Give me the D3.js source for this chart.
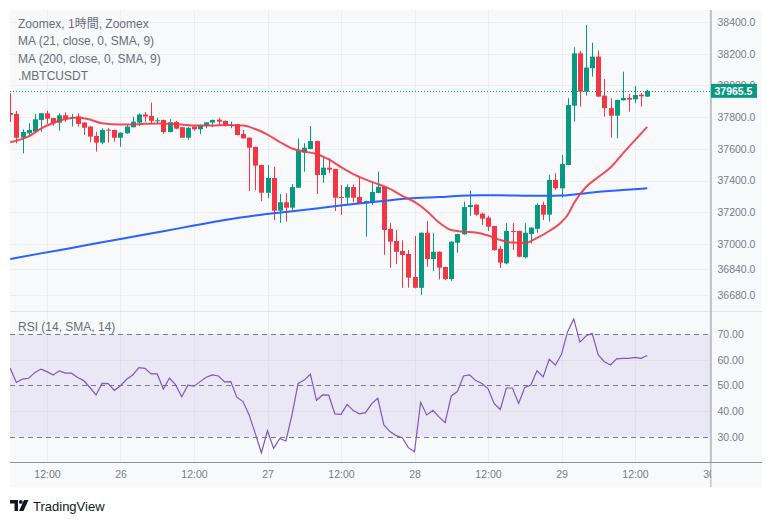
<!DOCTYPE html>
<html><head><meta charset="utf-8">
<script src="https://cdn.jsdelivr.net/npm/d3@7/dist/d3.min.js"></script>
<style>
html,body{margin:0;padding:0;background:#fff;}
svg text{font-family:"Liberation Sans",Arial,"Noto Sans CJK JP",sans-serif;}
</style></head>
<body><svg id="c" width="772" height="523"></svg>
<script>
// ---- data (1h candles, 25th 06:00 .. 29th 14:00) ----
const opens = [37826,37820,37670,37698,37708,37782,37824,37794,37765,37811,37794,37803,37765,37740,37681,37639,37721,37719,37670,37698,37736,37765,37816,37807,37776,37782,37706,37769,37736,37670,37740,37723,37744,37765,37784,37776,37749,37755,37694,37670,37612,37498,37323,37416,37210,37263,37229,37355,37576,37599,37649,37435,37481,37473,37296,37292,37359,37296,37258,37263,37322,37361,37095,37019,36956,36937,36792,36724,37071,36905,36951,36855,36779,37008,37061,37233,37248,37191,37166,37113,36970,36878,37082,37082,36916,37063,37096,37246,37185,37404,37351,37498,37872,38202,37960,38108,38181,37935,37856,37809,37906,37921,37912,37941,37929];
const highs = [37952,37839,37723,37761,37820,37826,37840,37796,37824,37830,37820,37824,37768,37742,37708,37730,37730,37721,37704,37755,37803,37824,37832,37891,37796,37784,37786,37777,37738,37735,37742,37752,37769,37784,37796,37778,37771,37757,37719,37672,37614,37500,37498,37487,37315,37320,37378,37666,37635,37744,37651,37550,37540,37475,37372,37376,37376,37418,37273,37389,37456,37363,37131,37088,37023,36962,37050,37073,37145,37071,36953,36857,37017,37065,37267,37336,37250,37197,37178,37115,36987,37131,37131,37084,37131,37105,37257,37267,37435,37446,37561,37919,38240,38217,38381,38269,38219,38040,37919,37910,38086,37946,37996,37952,37971];
const lows = [37769,37635,37572,37677,37700,37708,37757,37746,37714,37771,37740,37740,37687,37641,37582,37629,37639,37645,37613,37695,37735,37744,37771,37761,37761,37694,37704,37723,37668,37656,37714,37692,37730,37736,37748,37740,37730,37685,37664,37334,37339,37271,37288,37151,37134,37141,37210,37353,37456,37597,37315,37386,37446,37208,37183,37250,37263,37256,37046,37246,37320,36931,36851,36874,36724,36724,36720,36678,36857,36830,36777,36773,36768,36945,37059,37178,37178,37120,37082,36956,36849,36872,36962,36916,36910,37004,37071,37151,37141,37340,37292,37496,37771,37866,37935,38055,37927,37803,37670,37666,37904,37834,37887,37866,37927];
const closes = [37814,37670,37706,37719,37786,37824,37790,37761,37811,37786,37800,37757,37733,37677,37639,37719,37716,37670,37702,37740,37771,37816,37803,37776,37780,37706,37767,37727,37670,37733,37723,37750,37767,37782,37771,37748,37751,37687,37666,37607,37494,37323,37416,37210,37263,37229,37359,37586,37607,37649,37435,37481,37469,37292,37290,37359,37292,37258,37271,37328,37361,37088,37015,36951,36931,36788,36724,37071,36905,36951,36851,36779,37015,37063,37233,37246,37185,37160,37109,36962,36882,37082,37076,36920,37071,37103,37246,37185,37404,37351,37504,37876,38202,37960,38112,38181,37929,37856,37809,37908,37921,37910,37939,37931,37965.5];
// MA lines read at candle indices [index, value]
const ma21 = [[0,37641],[3,37678],[5,37728],[7,37763],[9,37788],[11,37798],[13,37785],[15,37761],[18,37753],[21,37755],[24,37760],[27,37757],[30,37747],[33,37747],[35,37750],[38,37747],[40,37725],[42,37690],[44,37643],[46,37602],[48,37583],[50,37567],[52,37533],[54,37485],[56,37441],[58,37407],[60,37378],[62,37347],[64,37303],[66,37265],[68,37208],[70,37136],[72,37088],[74,37078],[76,37073],[78,37054],[80,37025],[82,37009],[84,37006],[86,37038],[88,37082],[90,37139],[91,37183],[92,37255],[94,37359],[96,37422],[98,37482],[100,37570],[102,37655],[104,37738]];
const ma200 = [[0,36905],[5,36941],[10,36975],[15,37011],[20,37046],[25,37081],[30,37116],[35,37151],[40,37179],[45,37202],[50,37224],[55,37247],[60,37268],[65,37287],[70,37296],[75,37306],[80,37307],[85,37304],[90,37305],[95,37325],[100,37340],[104,37351]];
const rsi = [56.7,51.2,52.5,52.8,55.0,56.4,55.4,54.1,55.7,54.8,54.8,53.1,51.9,49.2,46.3,50.8,50.7,48.1,49.9,52.4,54.1,57.0,56.7,54.5,54.5,48.6,52.9,50.2,45.6,50.1,49.7,51.5,53.2,54.1,53.7,51.4,51.5,45.4,43.7,38.5,31.3,23.7,32.3,25.4,29.3,28.3,38.5,50.8,52.1,54.4,44.2,46.3,46.2,38.9,38.7,42.6,40.2,38.9,39.4,42.8,45.0,34.6,32.0,30.4,29.6,25.7,24.1,43.4,38.5,40.3,37.7,35.5,45.9,47.6,53.7,54.1,51.9,50.8,48.8,43.0,40.6,49.0,49.0,43.0,49.2,50.2,55.7,53.3,60.2,58.0,62.2,71.0,76.0,66.9,69.3,70.4,61.9,59.3,58.0,60.4,60.6,60.6,61.0,60.6,61.7];
const priceTicks = [38400,38200,38000,37800,37600,37400,37200,37000,36840,36680];
const rsiTicks = [70,60,50,40,30];
const timeTickIdx = [6,18,30,42,54,66,78,90,102,114];
const timeTickLabels = ["12:00","26","12:00","27","12:00","28","12:00","29","12:00","30"];
const legendLines = ["Zoomex, 1時間, Zoomex","MA (21, close, 0, SMA, 9)","MA (200, close, 0, SMA, 9)",".MBTCUSDT"];
const lastPrice = 37965.5;

// ---- layout ----
const L=10, R=710.5, T=10, PB=310, RT=312, RB=462, FR=762, FB=487;
const UP="#089981", DN="#f23645";
const svg=d3.select("#c");
const x=d3.scaleLinear().domain([0,104]).range([10.25,647.25]);
const yP=d3.scaleLinear().domain([36584,38475]).range([PB,T]);
const yR=d3.scaleLinear().domain([20.1,78.7]).range([RB,RT]);

svg.append("rect").attr("x",L).attr("y",T).attr("width",FR-L).attr("height",FB-T).attr("fill","#f8f9fb");
const defs=svg.append("defs");
defs.append("clipPath").attr("id","cp").append("rect").attr("x",L).attr("y",T).attr("width",R-L).attr("height",PB-T);
defs.append("clipPath").attr("id","cr").append("rect").attr("x",L).attr("y",RT).attr("width",R-L).attr("height",RB-RT);

// grid
const g=svg.append("g");
g.selectAll(".hg").data(priceTicks).join("line").attr("x1",L).attr("x2",R).attr("y1",d=>Math.round(yP(d))+0.5).attr("y2",d=>Math.round(yP(d))+0.5).attr("stroke","#eceef2");
g.selectAll(".vg").data(timeTickIdx).join("line").attr("x1",d=>Math.round(x(d))+0.5).attr("x2",d=>Math.round(x(d))+0.5).attr("y1",T).attr("y2",RB).attr("stroke","#eceef2");

// RSI band & grid
svg.append("rect").attr("x",L).attr("width",R-L).attr("y",yR(70)).attr("height",yR(30)-yR(70)).attr("fill","#7e57c2").attr("fill-opacity",0.1);
svg.selectAll(".rg").data([60,40]).join("line").attr("x1",L).attr("x2",R).attr("y1",d=>Math.round(yR(d))+0.5).attr("y2",d=>Math.round(yR(d))+0.5).attr("stroke","#e2dfea");
svg.selectAll(".rd").data([70,50,30]).join("line").attr("x1",L).attr("x2",R).attr("y1",d=>Math.round(yR(d))+0.5).attr("y2",d=>Math.round(yR(d))+0.5).attr("stroke","#787b86").attr("stroke-dasharray","5,4");

// pane separator
svg.append("line").attr("x1",L).attr("x2",FR).attr("y1",311.5).attr("y2",311.5).attr("stroke","#e0e3eb");

// candles
const cg=svg.append("g").attr("clip-path","url(#cp)");
const idx=d3.range(opens.length);
cg.selectAll(".w").data(idx).join("line")
  .attr("x1",i=>Math.round(x(i))+0.5).attr("x2",i=>Math.round(x(i))+0.5)
  .attr("y1",i=>yP(highs[i])).attr("y2",i=>yP(lows[i]))
  .attr("stroke",i=>closes[i]>=opens[i]?UP:DN);
cg.selectAll(".b").data(idx).join("rect")
  .attr("x",i=>Math.round(x(i))-2).attr("width",5)
  .attr("y",i=>yP(Math.max(opens[i],closes[i])))
  .attr("height",i=>Math.max(1,Math.abs(yP(opens[i])-yP(closes[i]))))
  .attr("fill",i=>closes[i]>=opens[i]?UP:DN);

// MAs
const line=d3.line().x(d=>x(d[0])).y(d=>yP(d[1])).curve(d3.curveMonotoneX);
cg.append("path").attr("d",line(ma200)).attr("fill","none").attr("stroke","#2962ff").attr("stroke-width",2);
cg.append("path").attr("d",line(ma21)).attr("fill","none").attr("stroke","#f23645").attr("stroke-width",2).attr("stroke-opacity",0.9);

// last price line
svg.append("line").attr("x1",L).attr("x2",R).attr("y1",Math.round(yP(lastPrice))+0.5).attr("y2",Math.round(yP(lastPrice))+0.5)
  .attr("stroke",UP).attr("stroke-dasharray","1,2");

// RSI line
svg.append("g").attr("clip-path","url(#cr)").append("path")
  .attr("d",d3.line().x((d,i)=>x(i)).y(d=>yR(d))(rsi)).attr("fill","none").attr("stroke","#7e57c2").attr("stroke-width",1.2);

// axes lines
svg.append("line").attr("x1",R+0.5).attr("x2",R+0.5).attr("y1",T).attr("y2",FB).attr("stroke","#8f929b");
svg.append("line").attr("x1",L).attr("x2",FR).attr("y1",RB+0.5).attr("y2",RB+0.5).attr("stroke","#8f929b");

// price axis
const pa=svg.append("g").attr("transform",`translate(${R},0)`)
  .call(d3.axisRight(yP).tickValues(priceTicks).tickFormat(d3.format(".1f")).tickSize(0).tickPadding(7));
pa.select(".domain").remove();
pa.selectAll("text").attr("fill","#787b86").style("font-size","10.5px");
// rsi axis
const ra=svg.append("g").attr("transform",`translate(${R},0)`)
  .call(d3.axisRight(yR).tickValues(rsiTicks).tickFormat(d3.format(".2f")).tickSize(0).tickPadding(7));
ra.select(".domain").remove();
ra.selectAll("text").attr("fill","#787b86").style("font-size","10.5px");
// time axis
const ta=svg.append("g").attr("transform",`translate(0,${RB})`).attr("clip-path",null)
  .call(d3.axisBottom(x).tickValues(timeTickIdx).tickFormat((d,i)=>timeTickLabels[i]).tickSize(0).tickPadding(9));
ta.select(".domain").remove();
ta.selectAll("text").attr("fill","#787b86").style("font-size","10.5px");
// cover time label overflow into price-axis column
svg.append("rect").attr("x",R+1).attr("y",RB+1).attr("width",FR-R-1).attr("height",FB-RB-1).attr("fill","#f8f9fb");

// last price box
const ly=yP(lastPrice);
svg.append("rect").attr("x",R+0.5).attr("y",ly-7).attr("width",46).attr("height",14).attr("fill",UP);
svg.append("text").attr("x",R+4).attr("y",ly+4).attr("fill","#fff").style("font-size","10.5px").style("font-weight","bold").text(d3.format(".1f")(lastPrice));

// legends
svg.selectAll(".lg").data(legendLines).join("text").attr("x",18).attr("y",(d,i)=>28+i*17.3)
  .attr("fill","#6a6d78").style("font-size","12px").text(d=>d);
svg.append("text").attr("x",18).attr("y",331).attr("fill","#6a6d78").style("font-size","12px").text("RSI (14, SMA, 14)");

// TradingView logo
const lg=svg.append("g").attr("transform","translate(10,500)").attr("fill","#131722");
lg.append("path").attr("d","M0 0 H8 V11 H4.5 V3.5 H0 Z");
lg.append("circle").attr("cx",10.8).attr("cy",1.9).attr("r",1.9);
lg.append("path").attr("d","M14 0 H18.5 L13.5 11 H9 Z");
svg.append("text").attr("x",33).attr("y",510.5).attr("fill","#131722").style("font-size","13px").text("TradingView");
</script></body></html>
